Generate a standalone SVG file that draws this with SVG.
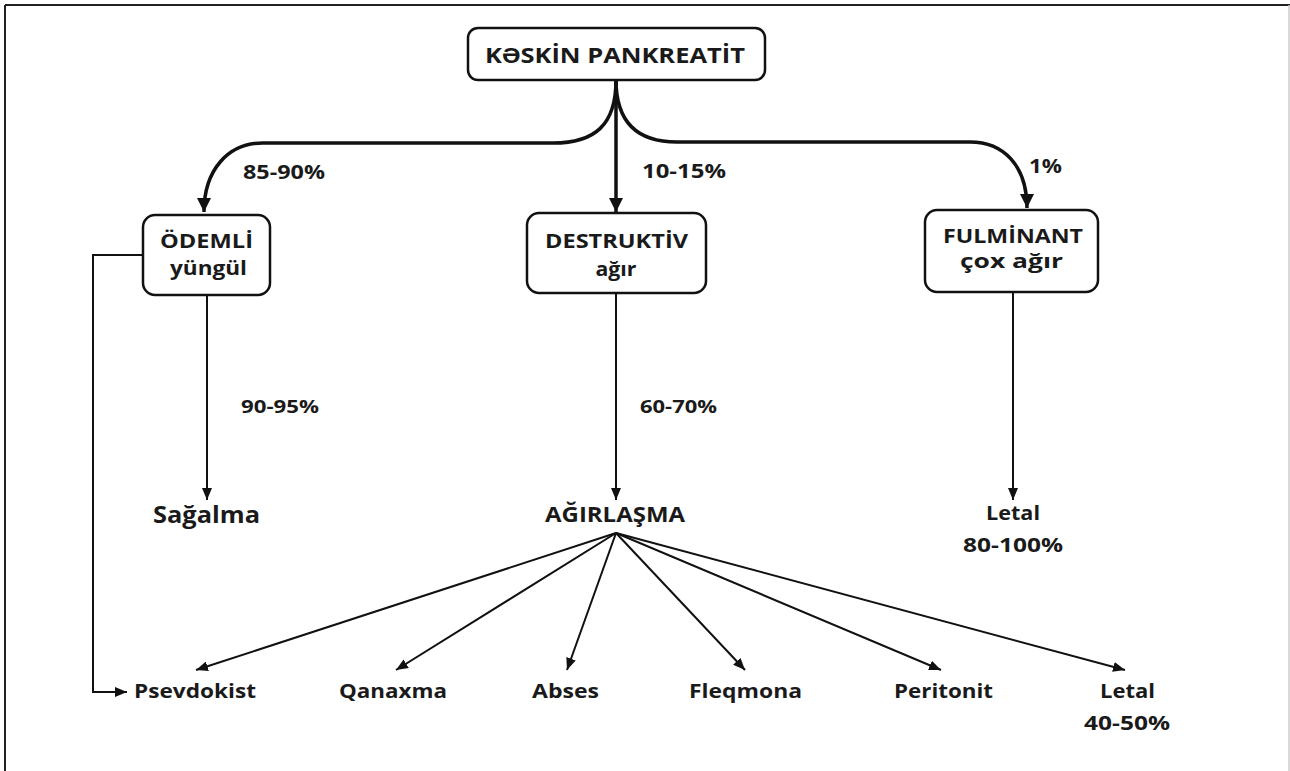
<svg xmlns="http://www.w3.org/2000/svg" width="1290" height="771" viewBox="0 0 1290 771">
<defs>
<style>
.t{font-family:"Open Sans","Liberation Sans",sans-serif;font-weight:bold;fill:#1a1a1a;text-anchor:middle}
.box{fill:#fff;stroke:#111;stroke-width:2.5}
.thin{fill:none;stroke:#111;stroke-width:2}
.thick{fill:none;stroke:#111;stroke-width:3.5}
</style>
<marker id="ah" markerUnits="userSpaceOnUse" markerWidth="12" markerHeight="10" refX="12" refY="5" orient="auto">
<path d="M0,0 L12,5 L0,10 z" fill="#111"/>
</marker>
<marker id="ahb" markerUnits="userSpaceOnUse" markerWidth="14" markerHeight="14" refX="14" refY="7" orient="auto">
<path d="M0,0 L14,7 L0,14 z" fill="#111"/>
</marker>
</defs>
<rect width="1290" height="771" fill="#fff"/>
<g id="frame">
<line x1="5" y1="5" x2="1290" y2="5" stroke="#222" stroke-width="2"/>
<line x1="5" y1="5" x2="5" y2="771" stroke="#222" stroke-width="2"/>
<line x1="1289" y1="5" x2="1289" y2="771" stroke="#ccc" stroke-width="1.5"/>
</g>
<g id="connectors">
<path class="thick" d="M616,80 C616,125 595,143 553,143 L263,143 C228,143 204,170 204,212" marker-end="url(#ahb)"/>
<path class="thick" d="M616,80 L616,212" marker-end="url(#ahb)"/>
<path class="thick" d="M616,80 C616,125 640,142 677,142 L970,142 C1003,142 1027,165 1027,208" marker-end="url(#ahb)"/>
<path class="thin" d="M207,295 L207,500" marker-end="url(#ah)"/>
<path class="thin" d="M616,293 L616,500" marker-end="url(#ah)"/>
<path class="thin" d="M1013,292 L1013,500" marker-end="url(#ah)"/>
<path class="thin" d="M143,255 L93,255 L93,692 L127,692" marker-end="url(#ah)"/>
<path class="thin" d="M616,533 L196,670" marker-end="url(#ah)"/>
<path class="thin" d="M616,533 L396,670" marker-end="url(#ah)"/>
<path class="thin" d="M616,533 L567,670" marker-end="url(#ah)"/>
<path class="thin" d="M616,533 L745,670" marker-end="url(#ah)"/>
<path class="thin" d="M616,533 L941,670" marker-end="url(#ah)"/>
<path class="thin" d="M616,533 L1125,670" marker-end="url(#ah)"/>
</g>
<g id="labels">
<text class="t" x="284" y="179" font-size="19" textLength="82" lengthAdjust="spacingAndGlyphs">85-90%</text>
<text class="t" x="684" y="178" font-size="19" textLength="84" lengthAdjust="spacingAndGlyphs">10-15%</text>
<text class="t" x="1045.5" y="173" font-size="19" textLength="33" lengthAdjust="spacingAndGlyphs">1%</text>
<text class="t" x="280" y="413" font-size="18" textLength="78" lengthAdjust="spacingAndGlyphs">90-95%</text>
<text class="t" x="678.5" y="413" font-size="18" textLength="77" lengthAdjust="spacingAndGlyphs">60-70%</text>
</g>
<g id="n-root">
<rect class="box" x="468" y="28" width="297" height="52" rx="10" stroke-width="3"/>
<text class="t" x="615" y="63" font-size="22" textLength="260" lengthAdjust="spacingAndGlyphs">KƏSKİN PANKREATİT</text>
</g>
<g id="n-odemli">
<rect class="box" x="143" y="215" width="127" height="80" rx="12"/>
<text class="t" x="206.5" y="248" font-size="19" textLength="93" lengthAdjust="spacingAndGlyphs">ÖDEMLİ</text>
<text class="t" x="208.5" y="275" font-size="19" textLength="77" lengthAdjust="spacingAndGlyphs">yüngül</text>
</g>
<g id="n-destruktiv">
<rect class="box" x="527" y="213" width="179" height="80" rx="12"/>
<text class="t" x="616.5" y="248" font-size="19" textLength="143" lengthAdjust="spacingAndGlyphs">DESTRUKTİV</text>
<text class="t" x="616" y="276" font-size="19" textLength="41" lengthAdjust="spacingAndGlyphs">ağır</text>
</g>
<g id="n-fulminant">
<rect class="box" x="925" y="210" width="173" height="82" rx="12"/>
<text class="t" x="1013" y="243" font-size="19" textLength="140" lengthAdjust="spacingAndGlyphs">FULMİNANT</text>
<text class="t" x="1011.5" y="268" font-size="19" textLength="103" lengthAdjust="spacingAndGlyphs">çox ağır</text>
</g>
<g id="n-sagalma">
<text class="t" x="206.5" y="523" font-size="23" textLength="107" lengthAdjust="spacingAndGlyphs">Sağalma</text>
</g>
<g id="n-agirlasma">
<text class="t" x="615" y="522" font-size="21" textLength="140" lengthAdjust="spacingAndGlyphs">AĞIRLAŞMA</text>
</g>
<g id="n-letal1">
<text class="t" x="1013" y="520" font-size="20" textLength="54" lengthAdjust="spacingAndGlyphs">Letal</text>
<text class="t" x="1013" y="552" font-size="20" textLength="100" lengthAdjust="spacingAndGlyphs">80-100%</text>
</g>
<g id="n-psevdokist">
<text class="t" x="195" y="698" font-size="20" textLength="122" lengthAdjust="spacingAndGlyphs">Psevdokist</text>
</g>
<g id="n-qanaxma">
<text class="t" x="393" y="698" font-size="20" textLength="108" lengthAdjust="spacingAndGlyphs">Qanaxma</text>
</g>
<g id="n-abses">
<text class="t" x="565.5" y="698" font-size="20" textLength="67" lengthAdjust="spacingAndGlyphs">Abses</text>
</g>
<g id="n-fleqmona">
<text class="t" x="745.5" y="698" font-size="20" textLength="113" lengthAdjust="spacingAndGlyphs">Fleqmona</text>
</g>
<g id="n-peritonit">
<text class="t" x="943.5" y="698" font-size="20" textLength="99" lengthAdjust="spacingAndGlyphs">Peritonit</text>
</g>
<g id="n-letal2">
<text class="t" x="1127.5" y="698" font-size="20" textLength="55" lengthAdjust="spacingAndGlyphs">Letal</text>
<text class="t" x="1127" y="730" font-size="20" textLength="86" lengthAdjust="spacingAndGlyphs">40-50%</text>
</g>
</svg>
